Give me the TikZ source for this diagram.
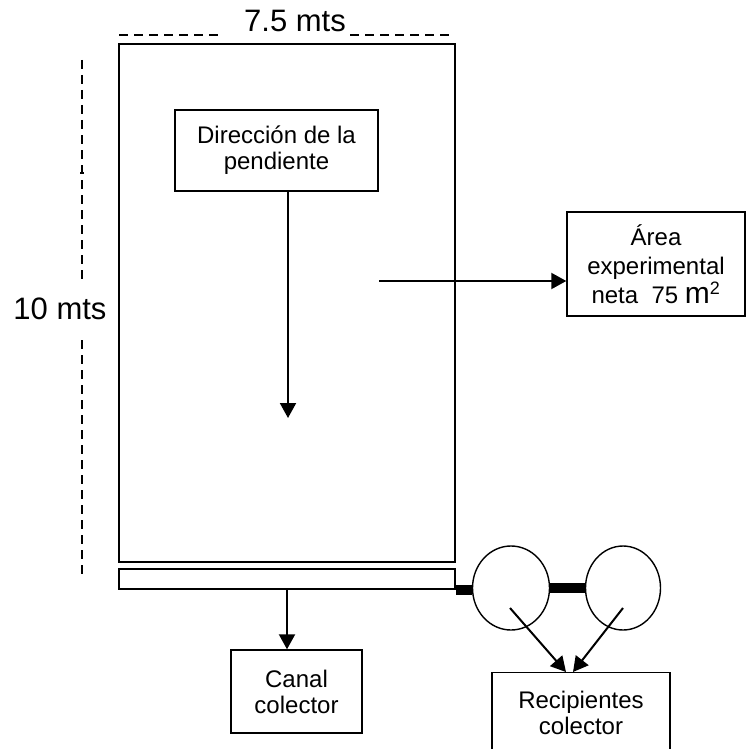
\documentclass[tikz,border=0pt]{standalone}
\usepackage{fontspec}
\setmainfont{Liberation Sans}
\usetikzlibrary{arrows.meta,shapes.geometric}
\begin{document}
\begin{tikzpicture}[x=1pt,y=-1pt,
  box/.style={draw,line width=1.4pt,inner sep=0pt},
  txt/.style={align=center,font=\fontsize{24}{26}\selectfont},
  big/.style={font=\fontsize{31}{31}\selectfont,inner sep=0pt},
  arr/.style={line width=2pt,-{Triangle[length=15pt,width=16pt]}},
  dim/.style={line width=1.3pt,dash pattern=on 9pt off 6pt},
  pipe/.style={line width=10pt},
  circ/.style={draw,ellipse,line width=1.4pt,minimum width=77pt,minimum height=84pt,inner sep=0pt}]
\useasboundingbox (0,0) rectangle (747,749);

% plot and collecting channel
\node[box,minimum width=336pt,minimum height=518pt] (plot) at (287,303) {};
\node[box,minimum width=336pt,minimum height=20pt] (strip) at (287,579) {};

% labels
\node[box,txt,minimum width=203pt,minimum height=81pt] (dir) at (276.5,150.5) {Dirección de la\\pendiente};
\node[box,align=center,font=\fontsize{24}{29}\selectfont,minimum width=178pt,minimum height=104pt] (area) at (656,264)
  {Área\\experimental\\neta\ \ 75 {\fontsize{30}{30}\selectfont m}\textsuperscript{\fontsize{18}{18}\selectfont 2}};
\node[box,txt,minimum width=131pt,minimum height=83pt] (canal) at (296.5,691.5) {Canal\\colector};
\node[box,txt,minimum width=178pt,minimum height=80pt,anchor=north] (rec) at (581,672) {Recipientes\\colector};

% recipients
\node[circ] (c1) at (511,588) {};
\node[circ,minimum width=75pt] (c2) at (623,588) {};
\draw[pipe] (strip.south east) -- (strip.south east -| c1.west);
\draw[pipe] (c1.east) -- (c2.west);

% arrows
\coordinate (d1) at (288,418);
\draw[arr] (d1 |- dir.south) -- (d1);
\coordinate (a0) at (379,281);
\draw[arr] (a0) -- (a0 -| area.west);
\draw[arr] (strip.south) -- (strip.south |- canal.north);
\coordinate (p1) at (510,608);
\coordinate (p2) at (623,608);
\coordinate (t1) at (566,672);
\coordinate (t2) at (573,672);
\draw[arr] (p1) -- (t1);
\draw[arr] (p2) -- (t2);

% dimensions
\node[big,anchor=base] (w) at (295,32) {7.5 mts};
\coordinate (wl0) at (119,35); \coordinate (wl1) at (222,35);
\coordinate (wr0) at (350,35); \coordinate (wr1) at (452,35);
\draw[dim] (wl0) -- (wl1);
\draw[dim] (wr0) -- (wr1);
\node[big,anchor=base] (h) at (60,319) {10 mts};
\coordinate (hl0) at (82,60); \coordinate (hl1) at (82,282);
\coordinate (hl2) at (82,340); \coordinate (hl3) at (82,575);
\draw[dim] (hl0) -- (hl1);
\draw[dim] (hl2) -- (hl3);
\coordinate (k0) at (80,173); \coordinate (k1) at (84,173);
\draw[line width=1.3pt] (k0) -- (k1);
\end{tikzpicture}
\end{document}
